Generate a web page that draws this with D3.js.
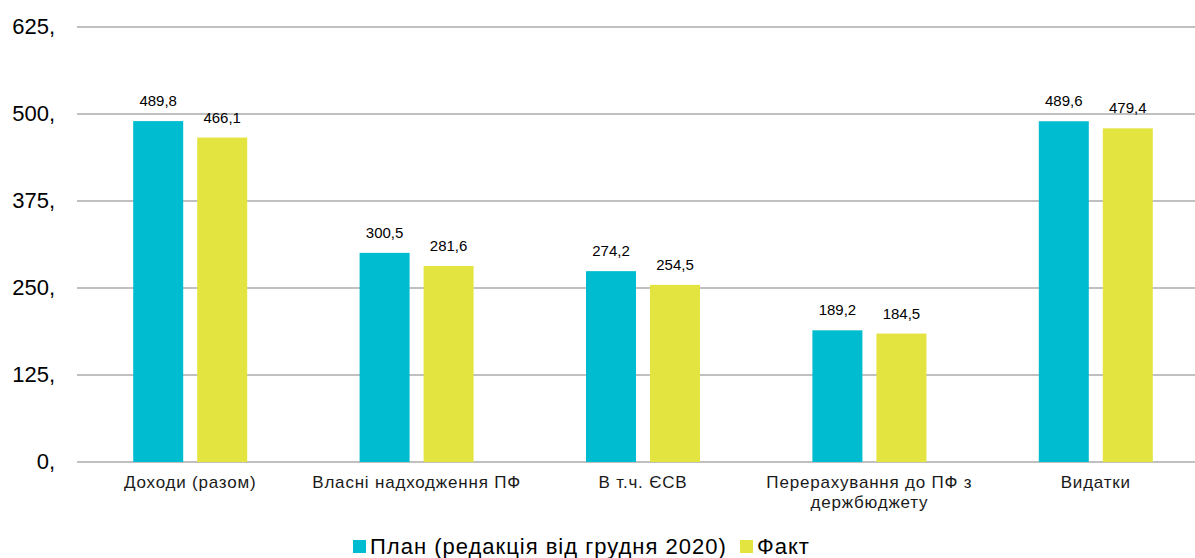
<!DOCTYPE html>
<html>
<head>
<meta charset="utf-8">
<script src="https://cdn.jsdelivr.net/npm/d3@7"></script>
<style>
  body { margin: 0; background: #fff; }
  svg { font-family: "Liberation Sans", Arial, sans-serif; }
</style>
</head>
<body>
<svg id="chart" width="1195" height="558"></svg>
<script>
// categories and series values
var categories = [
  ["Доходи (разом)"],
  ["Власні надходження ПФ"],
  ["В т.ч. ЄСВ"],
  ["Перерахування до ПФ з", "держбюджету"],
  ["Видатки"]
];
var planValues = [489.8, 300.5, 274.2, 189.2, 489.6];
var factValues = [466.1, 281.6, 254.5, 184.5, 479.4];
var seriesNames = ["План (редакція від грудня 2020)", "Факт"];
var yTicks = [0, 125, 250, 375, 500, 625];

var colors = ["#00bcd0", "#e4e440"];

var svg = d3.select("#chart");
// plot area (the band scale runs a little past the right edge, as in the original)
var plotLeft = 77, plotRight = 1209, plotTop = 27, plotBottom = 462;

var x = d3.scaleBand()
  .domain(d3.range(categories.length))
  .range([plotLeft, plotRight])
  .paddingInner(0).paddingOuter(0);

var y = d3.scaleLinear().domain([0, 625]).range([plotBottom, plotTop]);

var barW = 50, gap = 14;

// gridlines
svg.selectAll(".grid").data(yTicks).enter()
  .append("line")
  .attr("class", "grid")
  .attr("x1", plotLeft).attr("x2", 1195)
  .attr("y1", function (d) { return y(d); })
  .attr("y2", function (d) { return y(d); })
  .attr("stroke", "#c0c0c0")
  .attr("stroke-width", 2);

// y labels
svg.selectAll(".ylab").data(yTicks).enter()
  .append("text")
  .attr("class", "ylab")
  .attr("x", 55)
  .attr("y", function (d) { return y(d) + 7; })
  .attr("text-anchor", "end")
  .attr("font-size", 22)
  .attr("fill", "#000")
  .text(function (d) { return d + ","; });

var series = [planValues, factValues];
series.forEach(function (vals, s) {
  var g = svg.append("g");
  g.selectAll("rect").data(vals).enter()
    .append("rect")
    .attr("x", function (d, i) {
      var c = x(i) + x.bandwidth() / 2;
      return s === 0 ? c - gap / 2 - barW : c + gap / 2;
    })
    .attr("y", function (d) { return y(d); })
    .attr("width", barW)
    .attr("height", function (d) { return plotBottom - y(d); })
    .attr("fill", colors[s]);

  g.selectAll("text").data(vals).enter()
    .append("text")
    .attr("x", function (d, i) {
      var c = x(i) + x.bandwidth() / 2;
      return s === 0 ? c - gap / 2 - barW / 2 : c + gap / 2 + barW / 2;
    })
    .attr("y", function (d) { return y(d) - 15; })
    .attr("text-anchor", "middle")
    .attr("font-size", 15)
    .attr("fill", "#000")
    .text(function (d) { return String(d).replace(".", ","); });
});

// category labels
categories.forEach(function (lines, i) {
  var t = svg.append("text")
    .attr("text-anchor", "middle")
    .attr("font-size", 17)
    .attr("letter-spacing", 0.8)
    .attr("fill", "#1a1a1a");
  lines.forEach(function (ln, j) {
    t.append("tspan")
      .attr("x", x(i) + x.bandwidth() / 2)
      .attr("y", 488 + j * 20)
      .text(ln);
  });
});

// legend
var legendX = [353, 740];
seriesNames.forEach(function (name, s) {
  svg.append("rect")
    .attr("x", legendX[s]).attr("y", 540)
    .attr("width", 13).attr("height", 13)
    .attr("fill", colors[s]);
  svg.append("text")
    .attr("x", legendX[s] + 17).attr("y", 554)
    .attr("font-size", 22)
    .attr("letter-spacing", 1)
    .attr("fill", "#000")
    .text(name);
});
</script>
</body>
</html>
